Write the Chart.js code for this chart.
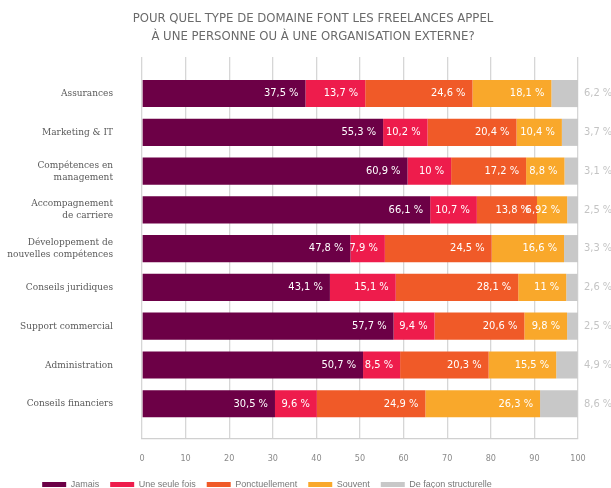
<!DOCTYPE html>
<html>
<head>
<meta charset="utf-8">
<script src="https://cdn.jsdelivr.net/npm/chart.js@4.4.1/dist/chart.umd.min.js"></script>
<style>
  html, body { margin: 0; padding: 0; background: #fff; }
  #wrap { width: 611px; height: 488px; }
</style>
</head>
<body>
<div id="wrap"><canvas id="freelanceChart" width="611" height="488"></canvas></div>
<script>
const categories = [
    'Assurances',
    'Marketing & IT',
    ['Compétences en', 'management'],
    ['Accompagnement', 'de carriere'],
    ['Développement de', 'nouvelles compétences'],
    'Conseils juridiques',
    'Support commercial',
    'Administration',
    'Conseils financiers'
];
const seriesNames = ['Jamais', 'Une seule fois', 'Ponctuellement', 'Souvent', 'De façon structurelle'];
const jamais = [37.5, 55.3, 60.9, 66.1, 47.8, 43.1, 57.7, 50.7, 30.5];
const uneSeuleFois = [13.7, 10.2, 10, 10.7, 7.9, 15.1, 9.4, 8.5, 9.6];
const ponctuellement = [24.6, 20.4, 17.2, 13.8, 24.5, 28.1, 20.6, 20.3, 24.9];
const souvent = [18.1, 10.4, 8.8, 6.92, 16.6, 11, 9.8, 15.5, 26.3];
const structurelle = [6.2, 3.7, 3.1, 2.5, 3.3, 2.6, 2.5, 4.9, 8.6];
const xTicks = [0, 10, 20, 30, 40, 50, 60, 70, 80, 90, 100];

const colors = ['#6c0046', '#ee1c4c', '#f05a28', '#f9a82b', '#c8c8c8'];
const allSeries = [jamais, uneSeuleFois, ponctuellement, souvent, structurelle];

const labelFont = "'DejaVu Sans Condensed', 'Liberation Sans Narrow', sans-serif";
const catFont = "'DejaVu Serif Condensed', 'DejaVu Serif', serif";

function fmt(v) {
    return String(v).replace('.', ',') + ' %';
}

// value labels: white inside segments, grey outside for the last series
const valueLabels = {
    id: 'valueLabels',
    afterDatasetsDraw(chart) {
        const ctx = chart.ctx;
        const area = chart.chartArea;
        ctx.save();
        ctx.font = '11px ' + labelFont;
        ctx.textBaseline = 'middle';
        chart.data.datasets.forEach((ds, di) => {
            const meta = chart.getDatasetMeta(di);
            meta.data.forEach((bar, i) => {
                const txt = fmt(ds.data[i].x);
                if (di === chart.data.datasets.length - 1) {
                    ctx.fillStyle = '#c4c4c4';
                    ctx.textAlign = 'left';
                    ctx.fillText(txt, area.right + 6, bar.y);
                } else {
                    ctx.fillStyle = '#ffffff';
                    ctx.textAlign = 'right';
                    ctx.fillText(txt, bar.x - 7, bar.y);
                }
            });
        });
        ctx.restore();
    }
};

// nudge title and legend the way the original is laid out
const nudge = {
    id: 'nudge',
    afterLayout(chart) {
        chart.legend.right -= 44;
        chart.titleBlock.left += 48;
    }
};

const ctx = document.getElementById('freelanceChart').getContext('2d');
const myChart = new Chart(ctx, {
    type: 'bar',
    data: {
        datasets: allSeries.map((vals, s) => ({
            label: seriesNames[s],
            data: vals.map((v, i) => ({ x: v, y: i })),
            backgroundColor: colors[s],
            borderWidth: 0,
            barPercentage: 0.7,
            categoryPercentage: 1
        }))
    },
    options: {
        indexAxis: 'y',
        responsive: false,
        animation: false,
        layout: { padding: { left: 0, right: 33, top: 6, bottom: -11 } },
        scales: {
            x: {
                stacked: true,
                min: 0,
                max: 100,
                afterBuildTicks(scale) {
                    scale.ticks = xTicks.map(v => ({ value: v }));
                },
                afterFit(scale) {
                    scale.height = 30;
                },
                grid: { color: '#d6d6d6', lineWidth: 1.3, drawTicks: false },
                border: { display: true, color: '#d0d0d0', width: 1.3 },
                ticks: {
                    padding: 14,
                    color: '#8a8a8a',
                    font: { family: labelFont, size: 9 }
                }
            },
            y: {
                type: 'linear',
                stacked: true,
                reverse: true,
                offset: false,
                min: -0.94,
                max: 8.91,
                afterBuildTicks(scale) {
                    scale.ticks = categories.map((c, i) => ({ value: i }));
                },
                afterFit(scale) {
                    scale.width = 142;
                },
                grid: { display: false, drawTicks: false },
                border: { display: false },
                ticks: {
                    padding: 29,
                    color: '#5a5a5a',
                    font: { family: catFont, size: 10 },
                    callback: (v) => categories[v]
                }
            }
        },
        plugins: {
            title: {
                display: true,
                text: ['POUR QUEL TYPE DE DOMAINE FONT LES FREELANCES APPEL', 'À UNE PERSONNE OU À UNE ORGANISATION EXTERNE?'],
                color: '#6a6a6a',
                font: { family: labelFont, size: 13, weight: 'normal', lineHeight: 1.35 },
                padding: { top: 4, bottom: 12 }
            },
            legend: {
                position: 'bottom',
                labels: {
                    boxWidth: 24,
                    boxHeight: 5,
                    padding: 11,
                    color: '#777',
                    font: { family: "'Liberation Sans', Arial, sans-serif", size: 9 }
                }
            },
            tooltip: { enabled: false }
        }
    },
    plugins: [valueLabels, nudge]
});
</script>
</body>
</html>
